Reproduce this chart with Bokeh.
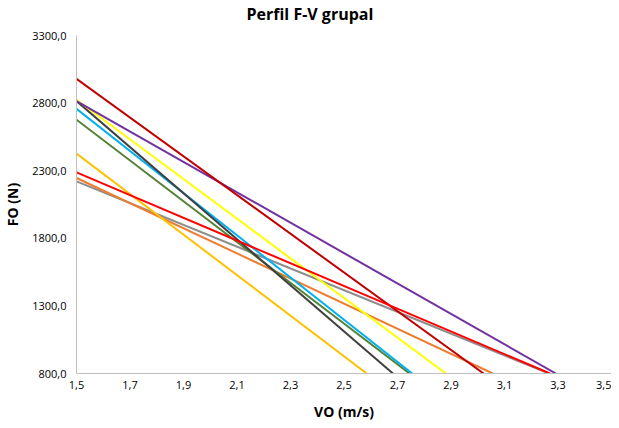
from bokeh.plotting import figure
from bokeh.models import Range1d, FixedTicker, Title
from bokeh.embed import file_html
from bokeh.resources import INLINE

# Data: force at V=1.5 m/s and the velocity where force reaches 800 N
series_names = ["S1", "S2", "S3", "S4", "S5", "S6", "S7", "S8", "S9", "S10"]
series_colors = ["#8C8C8C", "#ED7D31", "#FFC000", "#548235", "#00B0F0",
                 "#404040", "#FFFF00", "#7030A0", "#C00000", "#FF0000"]
v_start = [1.5, 1.5, 1.5, 1.5, 1.5, 1.5, 1.5, 1.5, 1.5, 1.5]
f_start = [2221, 2246, 2427, 2677, 2758, 2815, 2825, 2815, 2979, 2288]
v_end = [3.266, 3.056, 2.585, 2.745, 2.755, 2.683, 2.881, 3.292, 3.022, 3.270]
f_end = [800, 800, 800, 800, 800, 800, 800, 800, 800, 800]

x_ticks = [1.5, 1.7, 1.9, 2.1, 2.3, 2.5, 2.7, 2.9, 3.1, 3.3, 3.5]
x_tick_labels = ["1,5", "1,7", "1,9", "2,1", "2,3", "2,5", "2,7", "2,9", "3,1", "3,3", "3,5"]
y_ticks = [800, 1300, 1800, 2300, 2800, 3300]
y_tick_labels = ["800,0", "1300,0", "1800,0", "2300,0", "2800,0", "3300,0"]

chart_title = "Perfil F-V grupal"
x_title = "VO (m/s)"
y_title = "FO (N)"

FONT = "Open Sans"

p = figure(width=611, height=424, output_backend="svg", toolbar_location=None,
           x_range=Range1d(1.5, 3.5), y_range=Range1d(800, 3300),
           min_border_left=68, min_border_right=0, min_border_top=33, min_border_bottom=51)

# small gap between plot area and title, then the title itself
p.add_layout(Title(text=" ", standoff=0, text_font=FONT, text_font_size="7px"), "above")
p.add_layout(Title(text=chart_title, align="left", offset=170, standoff=0,
                   text_font=FONT, text_font_size="16px", text_font_style="bold",
                   text_color="#000000"), "above")

for i in range(len(series_names)):
    p.line([v_start[i], v_end[i]], [f_start[i], f_end[i]],
           line_color=series_colors[i], line_width=2)

p.xgrid.visible = False
p.ygrid.visible = False
p.outline_line_color = None

p.xaxis.ticker = FixedTicker(ticks=x_ticks)
p.yaxis.ticker = FixedTicker(ticks=y_ticks)
p.xaxis.major_label_overrides = {t: l for t, l in zip(x_ticks, x_tick_labels)}
p.yaxis.major_label_overrides = {t: l for t, l in zip(y_ticks, y_tick_labels)}

for ax in (p.xaxis, p.yaxis):
    ax.axis_line_color = "#BFBFBF"
    ax.axis_line_width = 1
    ax.major_tick_line_color = None
    ax.minor_tick_line_color = None
    ax.major_tick_out = 0
    ax.major_tick_in = 0
    ax.major_label_text_font = FONT
    ax.major_label_text_font_size = "11px"
    ax.major_label_text_color = "#000000"
    ax.axis_label_text_font = FONT
    ax.axis_label_text_font_size = "14px"
    ax.axis_label_text_font_style = "bold"
    ax.axis_label_text_color = "#000000"

p.xaxis.axis_label = x_title
p.yaxis.axis_label = y_title
p.xaxis.major_label_standoff = 7
p.yaxis.major_label_standoff = 10
p.xaxis.axis_label_standoff = 10
p.yaxis.axis_label_standoff = 7

open("out.html", "w").write(file_html(p, INLINE))
